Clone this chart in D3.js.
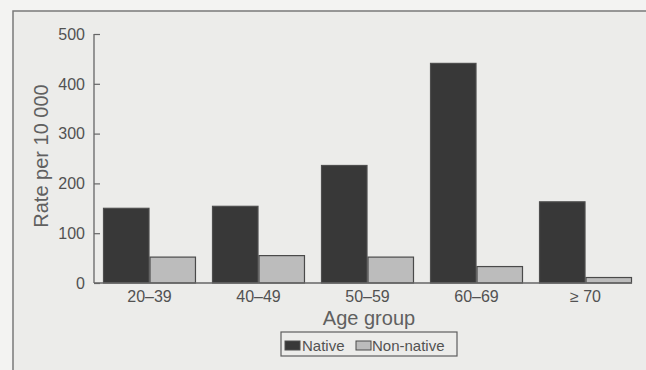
<!DOCTYPE html>
<html>
<head>
<meta charset="utf-8">
<script src="https://cdn.jsdelivr.net/npm/d3@7"></script>
<style>
  html, body { margin: 0; padding: 0; background: #f3f3f2; }
  svg { display: block; }
  text { font-family: "Liberation Sans", Arial, Helvetica, sans-serif; }
</style>
</head>
<body>
<svg id="chart" width="646" height="370"></svg>
<script>
const categories = ["20\u201339", "40\u201349", "50\u201359", "60\u201369", "\u2265 70"];
const nativeValues = [150, 154, 236, 441, 163];
const nonNativeValues = [52, 55, 52, 33, 11];
const seriesNames = ["Native", "Non-native"];
const yTicks = [0, 100, 200, 300, 400, 500];

const svg = d3.select("#chart");
const W = 646, H = 370;

// frame
svg.append("rect").attr("x", 13).attr("y", 11).attr("width", W).attr("height", H)
  .attr("fill", "#ececea").attr("stroke", "#7a7a7a").attr("stroke-width", 1.5);

const x0 = 94, xEnd = 632, yBase = 283, yTop = 34;

const y = d3.scaleLinear().domain([0, 500]).range([yBase, yTop]);
const xg = d3.scaleBand().domain(categories).range([103, 632]).paddingInner(0.147).paddingOuter(0);
const xs = d3.scaleBand().domain(seriesNames).range([0, xg.bandwidth()]).padding(0);

const data = categories.map((c, i) => ({ cat: c, values: [
  { s: "Native", v: nativeValues[i] },
  { s: "Non-native", v: nonNativeValues[i] }
]}));

const fills = { "Native": "#383838", "Non-native": "#bcbcbc" };
const strokes = { "Native": "#4e4e4e", "Non-native": "#4a4a4a" };

// bars
const g = svg.append("g").selectAll("g").data(data).join("g")
  .attr("transform", d => `translate(${xg(d.cat)},0)`);
g.selectAll("rect").data(d => d.values).join("rect")
  .attr("x", d => xs(d.s) + 0.5)
  .attr("width", xs.bandwidth() - 1)
  .attr("y", d => y(d.v))
  .attr("height", d => yBase - y(d.v))
  .attr("fill", d => fills[d.s])
  .attr("stroke", d => strokes[d.s])
  .attr("stroke-width", 1.2);

// y axis
const yAxis = d3.axisRight(y).tickValues(yTicks).tickSize(6).tickFormat("");
const ya = svg.append("g").attr("transform", `translate(${x0},0)`).call(yAxis);
ya.select(".domain").remove();
ya.selectAll(".tick line").attr("stroke", "#666").attr("stroke-width", 1.2);
svg.append("line").attr("x1", x0).attr("x2", x0).attr("y1", yTop).attr("y2", yBase)
  .attr("stroke", "#666").attr("stroke-width", 1.3);

svg.append("g").selectAll("text").data(yTicks).join("text")
  .attr("x", 85).attr("y", d => y(d)).attr("dy", "0.36em")
  .attr("text-anchor", "end").attr("font-size", 16).attr("fill", "#525252")
  .text(d => d);

// x axis
svg.append("line").attr("x1", x0).attr("x2", xEnd).attr("y1", yBase).attr("y2", yBase)
  .attr("stroke", "#666").attr("stroke-width", 1.3);
const xAxis = d3.axisBottom(xg).tickSize(0).tickPadding(8);
const xa = svg.append("g").attr("transform", `translate(0,${yBase})`).call(xAxis);
xa.select(".domain").remove();
xa.selectAll("text").attr("font-size", 16).attr("fill", "#525252")
  .attr("font-family", "'Liberation Sans', Arial, sans-serif");

// axis titles
svg.append("text").attr("transform", "translate(48,156) rotate(-90)")
  .attr("text-anchor", "middle").attr("font-size", 20).attr("fill", "#606060")
  .text("Rate per 10 000");
svg.append("text").attr("x", 369).attr("y", 325)
  .attr("text-anchor", "middle").attr("font-size", 20).attr("fill", "#606060")
  .text("Age group");

// legend
const lg = svg.append("g");
lg.append("rect").attr("x", 281).attr("y", 332).attr("width", 176).attr("height", 24)
  .attr("fill", "none").attr("stroke", "#5e5e5e").attr("stroke-width", 1.2);
const legendItems = [
  { s: "Native", x: 285, tx: 302 },
  { s: "Non-native", x: 356, tx: 372 }
];
lg.selectAll("rect.sw").data(legendItems).join("rect").attr("class", "sw")
  .attr("x", d => d.x).attr("y", 341).attr("width", 15).attr("height", 9)
  .attr("fill", d => fills[d.s]).attr("stroke", d => strokes[d.s]).attr("stroke-width", 1);
lg.selectAll("text").data(legendItems).join("text")
  .attr("x", d => d.tx).attr("y", 350.5).attr("font-size", 15).attr("fill", "#525252")
  .text(d => d.s);
</script>
</body>
</html>
